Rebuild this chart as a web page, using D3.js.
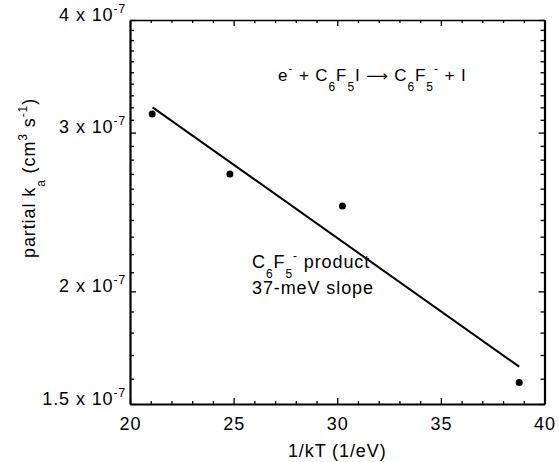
<!DOCTYPE html>
<html>
<head>
<meta charset="utf-8">
<script src="https://cdn.jsdelivr.net/npm/d3@7"></script>
<style>
  body { margin: 0; background: #fff; }
  svg { display: block; font-family: "Liberation Sans", Arial, sans-serif; }
  svg text { letter-spacing: 0.9px; }
</style>
</head>
<body>
<svg id="chart" width="559" height="462"></svg>
<script>
// measured points (1/kT in 1/eV, partial ka in cm3 s-1)
var pointX = [21.07, 24.82, 30.25, 38.78];
var pointY = [3.146e-7, 2.699e-7, 2.487e-7, 1.585e-7];

// fitted line, 37 meV slope
var fitX = [21.09, 38.78];
var fitY = [3.20e-7, 1.65e-7];

var xTicks = [20, 25, 30, 35, 40];
var yTicks = [1.5e-7, 2e-7, 3e-7, 4e-7];
var yTickMantissa = ["1.5", "2", "3", "4"];

(function() {
  var svg = d3.select("#chart");

  var mLeft = 130, mRight = 544.5, mTop = 20, mBottom = 404;

  var x = d3.scaleLinear().domain([20, 40]).range([mLeft, mRight]);
  var y = d3.scaleLog().domain([1.5e-7, 4e-7]).range([mBottom, mTop]);

  var xMinor = d3.range(20, 41, 1).filter(function(d) { return d % 5 !== 0; });
  var yMinor = d3.range(16, 40, 1).map(function(d) { return d * 1e-8; })
    .filter(function(d) { return yTicks.every(function(t) { return Math.abs(t - d) > 1e-10; }); });

  function styleAxis(g, width) {
    g.select(".domain").attr("stroke", "#000").attr("stroke-width", width);
    g.selectAll(".tick line").attr("stroke", "#000").attr("stroke-width", 1.3);
  }

  // rich text: segments of [text, "n" | "sub" | "sup" | "arrow"]
  function rich(t, segs, small) {
    var cur = 0;
    segs.forEach(function(s) {
      var off = s[1] === "sub" ? 10 : s[1] === "sup" ? -8 : 0;
      var ts = t.append("tspan").attr("dy", off - cur).text(s[0]);
      if (s[1] === "sub" || s[1] === "sup") ts.attr("font-size", small);
      if (s[1] === "arrow") ts.attr("font-family", "DejaVu Sans").attr("font-size", 15);
      cur = off;
    });
  }

  // minor ticks
  svg.append("g").attr("transform", "translate(0," + mBottom + ")")
    .call(d3.axisBottom(x).tickValues(xMinor).tickSize(-3).tickFormat(""))
    .call(function(g) { g.select(".domain").remove(); styleAxis(g, 0); });
  svg.append("g").attr("transform", "translate(0," + mTop + ")")
    .call(d3.axisTop(x).tickValues(xMinor).tickSize(-3).tickFormat(""))
    .call(function(g) { g.select(".domain").remove(); styleAxis(g, 0); });
  svg.append("g").attr("transform", "translate(" + mLeft + ",0)")
    .call(d3.axisLeft(y).tickValues(yMinor).tickSize(-4).tickFormat(""))
    .call(function(g) { g.select(".domain").remove(); styleAxis(g, 0); });
  svg.append("g").attr("transform", "translate(" + mRight + ",0)")
    .call(d3.axisRight(y).tickValues(yMinor).tickSize(-4).tickFormat(""))
    .call(function(g) { g.select(".domain").remove(); styleAxis(g, 0); });

  // major axes
  var xAxis = svg.append("g").attr("transform", "translate(0," + mBottom + ")")
    .call(d3.axisBottom(x).tickValues(xTicks).tickSize(-6).tickSizeOuter(0).tickPadding(13))
    .call(function(g) { styleAxis(g, 2); });
  xAxis.selectAll(".tick text").attr("font-size", 18).attr("fill", "#000")
    .attr("font-family", "Liberation Sans, Arial, sans-serif");

  svg.append("g").attr("transform", "translate(0," + mTop + ")")
    .call(d3.axisTop(x).tickValues(xTicks).tickSize(-6).tickSizeOuter(0).tickFormat(""))
    .call(function(g) { styleAxis(g, 1.3); });

  svg.append("g").attr("transform", "translate(" + mRight + ",0)")
    .call(d3.axisRight(y).tickValues(yTicks).tickSize(-6).tickSizeOuter(0).tickFormat(""))
    .call(function(g) { styleAxis(g, 2.2); });

  var yAxis = svg.append("g").attr("transform", "translate(" + mLeft + ",0)")
    .call(d3.axisLeft(y).tickValues(yTicks).tickSize(-6).tickSizeOuter(0).tickPadding(4))
    .call(function(g) { styleAxis(g, 2.2); });

  yAxis.selectAll(".tick text")
    .attr("font-size", 18).attr("fill", "#000")
    .attr("font-family", "Liberation Sans, Arial, sans-serif")
    .attr("dy", "0.4em")
    .text(null)
    .each(function(d, i) {
      rich(d3.select(this), [[yTickMantissa[i] + " x 10", "n"], ["-7", "sup"]], 12);
    });

  // fit line
  var line = d3.line()
    .x(function(d) { return x(d[0]); })
    .y(function(d) { return y(d[1]); });

  svg.append("path")
    .datum(fitX.map(function(d, i) { return [d, fitY[i]]; }))
    .attr("d", line)
    .attr("fill", "none")
    .attr("stroke", "#000")
    .attr("stroke-width", 2);

  // points
  svg.selectAll("circle.pt")
    .data(pointX.map(function(d, i) { return [d, pointY[i]]; }))
    .enter().append("circle")
    .attr("class", "pt")
    .attr("cx", function(d) { return x(d[0]); })
    .attr("cy", function(d) { return y(d[1]); })
    .attr("r", 3.5)
    .attr("fill", "#000");

  // axis titles
  svg.append("text")
    .attr("x", (mLeft + mRight) / 2)
    .attr("y", 457)
    .attr("text-anchor", "middle")
    .attr("font-size", 18)
    .text("1/kT (1/eV)");

  var yTitle = svg.append("text")
    .attr("transform", "translate(35,258) rotate(-90)")
    .attr("font-size", 18);
  rich(yTitle, [["partial k", "n"], ["a", "sub"], [" (cm", "n"], ["3", "sup"],
    [" s", "n"], ["-1", "sup"], [")", "n"]], 12);

  // reaction annotation
  var r = svg.append("text").attr("x", 278).attr("y", 81).attr("font-size", 17);
  rich(r, [["e", "n"], ["-", "sup"], [" + C", "n"], ["6", "sub"], ["F", "n"], ["5", "sub"],
    ["I ", "n"], ["\u27F6", "arrow"], [" C", "n"], ["6", "sub"], ["F", "n"], ["5", "sub"],
    ["-", "sup"], [" + I", "n"]], 12);

  var p = svg.append("text").attr("x", 252).attr("y", 268).attr("font-size", 18);
  rich(p, [["C", "n"], ["6", "sub"], ["F", "n"], ["5", "sub"], ["-", "sup"], [" product", "n"]], 12);

  svg.append("text").attr("x", 252).attr("y", 294).attr("font-size", 18).text("37-meV slope");
})();
</script>
</body>
</html>
